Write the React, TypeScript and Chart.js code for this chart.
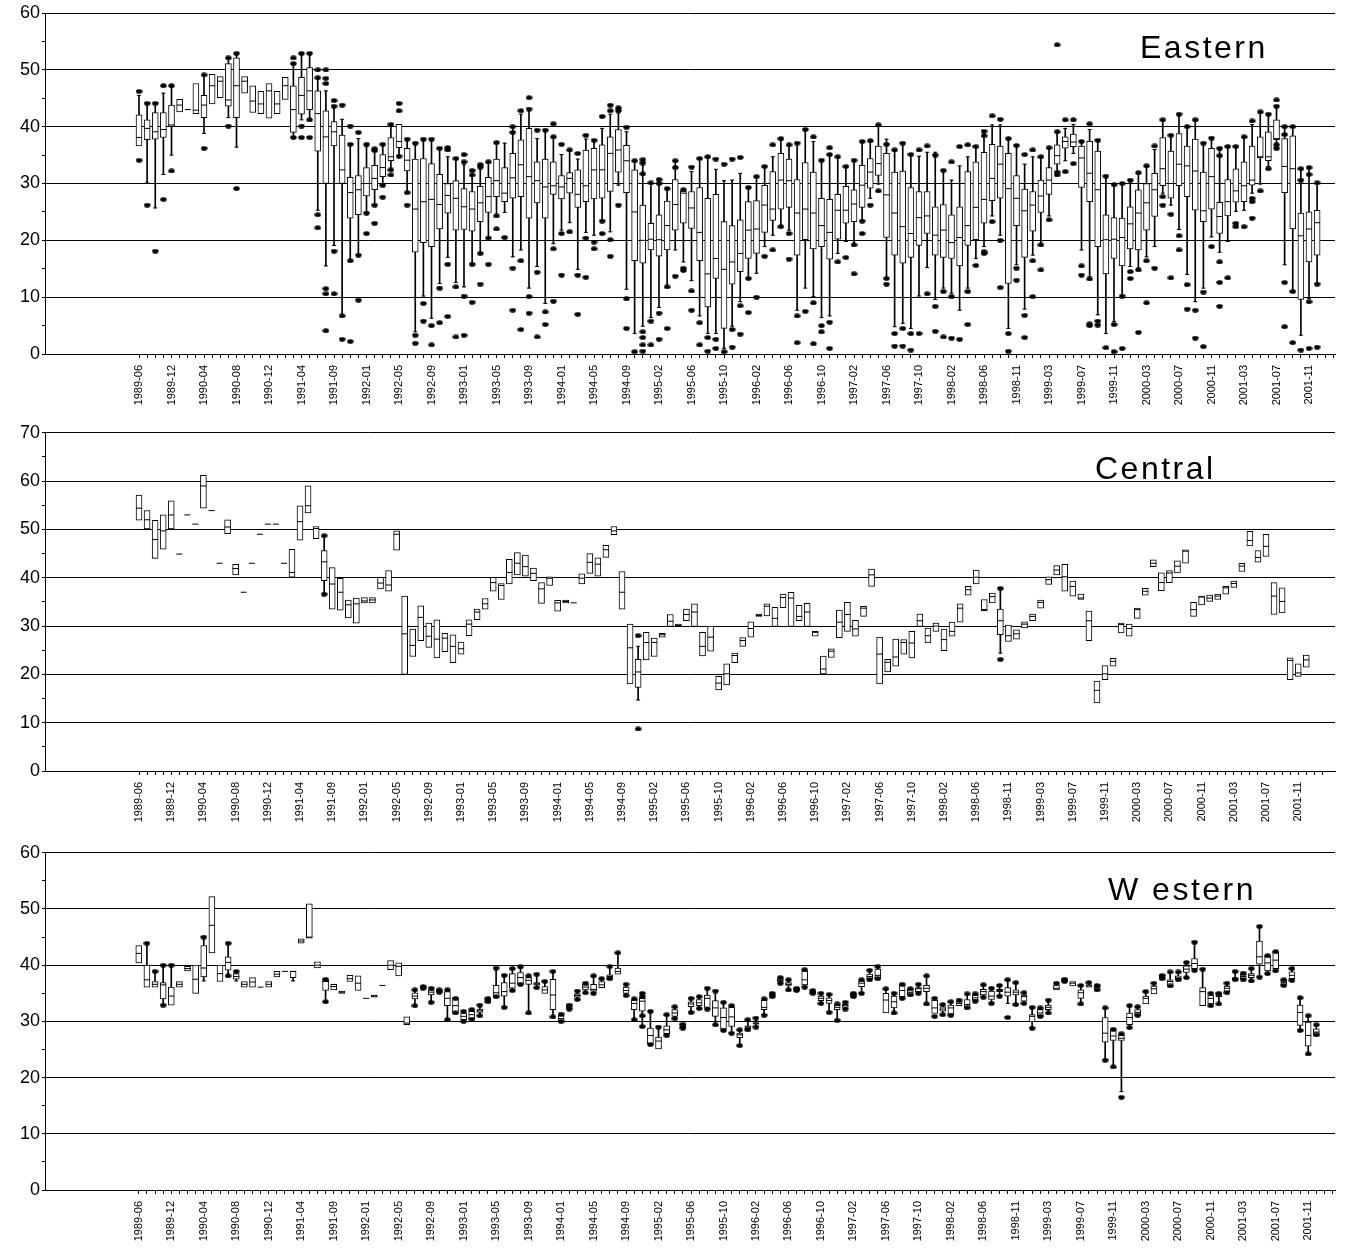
import React, { useEffect, useRef } from "react";
import { Chart, registerables } from "chart.js";

Chart.register(...registerables);
Chart.defaults.font.family = '"Liberation Sans", Arial, sans-serif';

// ---------- categories (x axis) ----------
const months = [
  "1989-06","1989-07","1989-09","1989-10","1989-12",
  "1990-01","1990-02","1990-03","1990-04","1990-05","1990-06","1990-07","1990-08",
  "1990-09","1990-10","1990-11","1990-12","1991-01","1991-02","1991-03","1991-04",
  "1991-05","1991-06","1991-07","1991-09","1991-10","1991-11","1991-12","1992-01",
  "1992-02","1992-03","1992-04","1992-05","1992-06","1992-07","1992-08","1992-09",
  "1992-10","1992-11","1992-12","1993-01","1993-02","1993-03","1993-04","1993-05",
  "1993-06","1993-07","1993-08","1993-09","1993-10","1993-11","1993-12","1994-01",
  "1994-02","1994-03","1994-04","1994-05","1994-06","1994-07","1994-08","1994-09",
  "1994-10","1994-11","1995-01","1995-02","1995-03","1995-04","1995-05","1995-06",
  "1995-07","1995-08","1995-09","1995-10","1995-11","1995-12","1996-01","1996-02",
  "1996-03","1996-04","1996-05","1996-06","1996-07","1996-08","1996-09","1996-10",
  "1996-11","1996-12","1997-01","1997-02","1997-03","1997-04","1997-05","1997-06",
  "1997-07","1997-08","1997-09","1997-10","1997-11","1997-12","1998-01","1998-02",
  "1998-03","1998-04","1998-05","1998-06","1998-07","1998-08","1998-10","1998-11",
  "1998-12","1999-01","1999-02","1999-03","1999-04","1999-05","1999-06","1999-07",
  "1999-08","1999-09","1999-10","1999-11","1999-12","2000-01","2000-02","2000-03",
  "2000-04","2000-05","2000-06","2000-07","2000-08","2000-09","2000-10","2000-11",
  "2000-12","2001-01","2001-02","2001-03","2001-04","2001-05","2001-06","2001-07",
  "2001-08","2001-09","2001-10","2001-11","2001-12"
];

// Box entries: [lo, q1, median, q3, hi] | [q1, median, q3] | [single value]
const eastBoxes = [
  [36.6,36.6,38.1,42.1,45.5],[30.1,37.7,39.7,41.2,44.1],[25.7,37.8,39.1,42.5,44.1],[31.6,38.1,39.5,42.5,45.9],
  [35.0,40.0,40.3,43.8,47.2],[42.6,43.8,44.8],[43.0],[42.3,42.9,47.6],
  [38.8,41.6,43.8,45.5,49.1],[44.0,47.2,49.2],[45.1,48.0,48.8],[41.6,43.6,44.7,51.1,52.1],
  [36.4,41.6,47.2,52.1,52.9],[45.9,48.0,48.8],[42.5,44.5,47.2],[42.3,44.0,46.2],
  [41.5,46.3,47.6],[42.3,44.0,46.2],[44.8,47.2,48.7],[38.1,39.0,43.0,47.2,51.1],
  [41.2,42.2,45.5,48.7,52.9],[41.2,43.0,46.3,50.4,52.9],[25.3,35.7,42.3,46.3,48.6],[15.5,30.0,38.2,42.8,46.3],
  [19.1,36.6,39.1,40.9,43.6],[6.7,30.0,32.4,38.5,41.3],[16.4,23.9,28.4,31.1,36.9],[17.4,24.5,28.9,31.4,37.9],
  [24.8,27.8,30.0,32.8,36.5],[26.2,28.9,30.9,33.2,36.1],[29.7,31.2,32.8,35.1,36.9],[32.4,34.0,34.7,38.1,40.4],
  [34.8,36.3,37.4,40.4,40.4],[28.4,32.2,34.1,36.2,37.8],[3.9,17.9,25.5,34.3,37.1],[10.2,19.6,26.8,34.4,37.8],
  [6.3,18.9,27.2,33.5,37.8],[12.4,22.0,26.3,31.6,36.2],[17.0,24.8,27.9,30.0,34.7],[12.6,21.8,27.4,30.5,34.4],
  [11.8,21.9,25.9,29.1,33.3],[15.8,21.6,25.5,28.6,31.4],[17.7,23.3,26.6,29.5,32.7],[20.4,24.9,27.7,31.1,33.8],
  [24.3,27.7,30.5,34.3,37.2],[24.9,26.8,28.3,32.8,37.1],[17.1,27.4,31.0,35.3,40.0],[18.3,27.7,33.3,37.7,42.2],
  [11.6,23.9,31.2,39.7,43.1],[15.4,26.6,30.5,33.8,37.9],[8.9,23.9,29.4,34.3,39.4],[19.4,28.1,29.6,33.8,38.2],
  [21.8,27.3,29.4,31.4,35.1],[23.1,28.3,30.9,31.9,35.9],[14.9,25.8,28.1,32.4,34.3],[21.4,26.8,29.6,35.9,37.8],
  [20.9,27.3,32.4,36.2,37.6],[23.4,27.4,32.4,36.8,39.7],[21.5,28.6,35.3,38.2,42.2],[29.7,32.0,35.9,39.5,42.4],
  [11.4,28.4,34.0,36.7,39.1],[3.6,16.4,25.0,32.4,34.0],[4.9,16.0,20.0,26.2,33.6],[6.4,18.3,20.2,23.0,30.1],
  [8.2,17.2,20.1,24.5,30.0],[11.8,18.3,22.6,26.9,29.1],[18.3,21.8,26.3,30.7,34.0],[16.2,23.0,28.3,28.7,28.9],
  [12.9,22.1,25.7,28.6,32.1],[6.7,16.4,21.4,29.3,34.4],[3.6,8.3,14.1,27.4,34.7],[3.6,13.3,16.8,28.1,32.5],
  [1.0,4.5,14.9,23.3,30.5],[4.9,12.3,16.2,22.6,30.6],[9.2,14.5,17.7,23.6,31.8],[13.3,16.8,21.8,26.8,29.3],
  [14.2,17.7,22.0,27.0,31.2],[18.9,21.4,26.2,29.7,33.0],[20.9,23.5,25.5,32.1,34.7],[22.4,25.5,30.6,35.3,37.6],
  [21.8,25.8,30.5,34.3,36.8],[7.7,17.4,24.8,30.7,37.1],[11.6,20.1,25.5,33.7,39.5],[10.1,18.5,24.8,32.0,37.4],
  [6.4,18.9,22.6,27.4,34.1],[6.7,16.7,21.4,27.2,35.1],[17.7,20.2,25.3,28.1,34.7],[19.8,23.0,25.3,29.5,33.0],
  [19.2,23.3,26.4,28.9,34.1],[23.4,25.8,29.7,33.2,37.4],[27.4,29.2,32.0,34.4,37.5],[29.9,31.4,33.5,36.6,40.3],
  [13.3,20.5,28.0,35.3,37.8],[4.8,17.4,24.8,32.0,35.9],[5.4,16.0,22.4,32.2,37.1],[4.5,17.0,21.2,29.3,35.1],
  [10.2,19.1,24.0,28.6,34.8],[15.2,21.2,24.3,28.6,35.5],[9.6,17.4,20.9,25.9,35.5],[11.6,17.0,21.8,26.3,32.3],
  [10.7,16.8,19.6,24.5,30.6],[7.7,15.5,20.5,25.9,33.1],[11.6,19.1,22.6,32.1,34.7],[16.8,20.1,25.8,33.8,36.5],
  [18.9,23.0,27.2,35.5,39.1],[24.3,27.0,30.9,36.9,40.3],[20.9,27.4,33.4,36.6,40.3],[4.5,12.4,29.1,35.3,37.8],
  [15.7,22.6,27.4,31.4,36.7],[7.9,17.0,25.2,29.0,33.4],[17.4,21.6,26.2,28.6,34.7],[19.2,24.9,27.8,30.6,34.7],
  [24.3,28.1,30.6,32.8,36.3],[32.1,33.4,34.9,36.8,39.1],[34.0,36.2,37.4,38.2,39.7],[35.3,36.5,37.3,38.7,40.4],
  [18.3,29.3,34.5,36.6,37.4],[13.6,26.8,31.8,37.4,39.5],[6.9,18.9,28.9,35.7,37.6],[3.6,14.1,20.1,24.5,31.3],
  [5.7,16.8,20.2,24.0,29.8],[10.2,15.5,20.5,23.9,29.9],[15.4,18.5,22.9,25.9,30.6],[15.1,18.3,24.8,28.9,31.9],
  [17.1,21.8,26.6,30.0,33.1],[18.9,24.2,28.9,31.8,36.0],[28.3,29.6,32.6,38.1,41.2],[26.2,27.4,30.0,35.7,38.5],
  [21.9,29.6,33.4,38.8,42.2],[14.0,27.7,33.1,36.6,40.0],[9.2,25.3,32.2,37.8,41.2],[11.6,23.3,25.2,32.0,37.1],
  [20.6,25.5,31.2,36.2,38.0],[17.9,21.2,24.2,26.7,35.9],[19.8,24.3,26.8,30.7,36.5],[25.1,26.7,28.7,32.6,36.5],
  [25.3,26.8,29.6,33.8,38.2],[28.3,29.7,30.6,36.6,40.4],[29.9,34.5,34.7,38.2,42.4],[33.0,34.0,34.7,39.1,42.2],
  [37.1,37.7,37.9,41.2,43.6],[15.7,28.4,33.0,37.9,40.0],[11.0,22.0,32.6,38.4,40.0],[3.3,9.6,20.8,24.8,32.6],
  [9.8,16.2,22.0,25.0,32.8],[12.3,17.4,23.1,25.3,30.1]
];
const eastOutliers = [
  [46.2,34.1],[44.1,26.2],[44.1,18.1],[47.2,27.2],[47.2,32.2],[],[],[],
  [49.1,36.2],[],[],[52.1,40.1],[52.9,29.1],[],[],[],
  [],[],[],[52.1,51.1,38.1],[52.9,40.1,38.1],[52.9,41.2,38.1],[50.0,48.6,24.5,22.2],[50.0,48.5,47.6,11.5,10.6,4.1],
  [44.6,43.6,18.1,10.6],[43.8,6.7,2.6],[40.1,36.9,16.4,2.2],[39.0,17.4,9.5],[36.9,24.8,21.2],[36.1,35.8,26.2,23.0],[36.9,29.7,27.6],[40.4,32.4,31.5],
  [44.1,42.8,34.8],[37.8,28.4,26.2],[37.1,3.3,1.9],[37.8,8.9,5.8],[37.8,5.0,1.6],[36.2,11.6,5.5],[36.3,35.9,15.8,6.6],[34.4,11.8,3.0],
  [35.1,33.8,10.2,3.3],[32.3,31.5,15.8,9.1],[33.3,32.9,17.7,12.3],[33.8,20.4,15.8],[37.2,24.3,22.0],[20.5],[40.0,39.0,15.1,7.7],[42.8,16.4,4.3],
  [45.1,43.1,10.1,7.2],[39.4,14.4,3.0],[39.4,7.4,5.2],[40.5,38.2,18.5,9.3],[36.9,21.2,13.9],[35.9,21.5],[35.3,13.9,7.0],[38.5,20.4,13.5],
  [37.6,19.7,18.5],[41.8,23.4,21.2],[43.8,42.8,20.1,17.2],[43.3,42.8,26.2],[39.9,9.7,4.5],[34.0,0.4],[34.2,33.6,31.7,3.9,2.9,1.6,0.5],[30.1,5.8,1.6],
  [30.7,30.0,7.2,2.6],[29.1,11.8,4.5],[34.0,32.8,13.7],[28.9,15.1,14.7],[32.9,11.1,7.7],[34.4,5.5,1.6],[34.7,2.9,0.5],[34.3,2.6,1.0],
  [33.4,0.4],[34.3,4.3,1.2],[34.6,8.5,3.5],[29.3,13.3,7.3],[31.2,10.0],[33.0,17.2],[36.8,18.3],[37.9,22.4],
  [36.8,21.2,16.7],[37.1,6.7,2.0],[39.5,7.5],[38.2,9.0,1.8],[34.1,5.0,3.9],[36.3,35.1,5.6,1.0],[34.7,16.2],[33.0,17.0],
  [34.1,19.2,14.1],[37.4,23.4,21.2],[37.5,26.2],[40.3,28.7],[36.9,13.3,12.3],[35.9,3.6,1.4],[37.1,4.5,1.4],[35.1,3.6,0.7],
  [35.9,3.6],[36.6,10.6],[35.0,8.4,4.0],[32.3,11.0,3.0],[33.8,10.1,2.8],[36.5,2.6],[36.8,11.0,5.2],[36.5,15.6],
  [39.2,38.4,18.0,17.7],[41.9,23.3],[41.3,20.0,11.7],[37.9,3.6,0.5],[36.7,15.1,13.0],[35.1,6.8,2.9],[35.9,16.4,10.1],[34.7,19.2,14.8],
  [36.3,23.6],[54.4,39.1,32.0,31.5],[41.2,32.1],[41.2,33.5],[37.4,15.5,13.9],[40.5,13.2,5.3,5.0],[37.6,5.8,5.1],[31.3,1.1],
  [29.8,5.2,0.4],[30.0,10.2,1.0],[30.6,14.5,13.3],[31.9,14.8,3.8],[33.1,16.4,9.0],[36.6,15.1],[41.2,27.7,26.2],[38.5,24.6,13.4],
  [42.2,20.8,18.3],[40.0,12.2,7.9],[41.2,7.7,2.8],[37.1,10.9,1.3],[38.0,18.9],[36.2,34.9,16.2,12.6,8.4],[36.5,13.4],[36.5,23.0,22.4],
  [38.2,22.4],[41.0,27.4,26.8,23.9],[42.6,28.7],[42.2,32.6],[44.7,43.6,36.8,36.2],[40.0,38.6,12.6,4.8],[40.0,11.0,2.0],[32.6,30.6,0.7],
  [32.8,31.6,9.2,1.0],[30.1,12.3,1.2]
];

const centralBoxes = [
  [51.9,54.4,57.1],[50.1,52.0,53.9],[44.0,47.9,51.9],[45.9,49.7,53.0],[50.1,53.0,55.9],[44.9],[53.0],[51.1],
  [54.4,59.0,61.2],[53.9],[43.0],[49.1,50.5,52.0],[40.6,41.9,42.8],[37.0],[43.0],[49.0],
  [51.1],[51.1],[43.0],[40.1,41.1,45.9],[47.8,51.6,54.9],[53.4,54.9,59.0],[48.1,50.2,50.6],[36.6,39.4,43.3,45.6,48.7],
  [33.5,38.7,42.1],[33.3,37.0,39.9],[31.7,34.4,35.4],[30.6,34.6,35.8],[34.8,35.2,35.9],[34.8,35.4,35.9],[37.7,38.9,40.1],[37.2,38.5,41.5],
  [45.7,49.0,49.7],[20.0,28.4,36.2],[23.7,26.0,29.4],[27.0,31.8,34.2],[25.6,27.9,30.6],[23.4,27.3,31.3],[24.7,27.5,28.5],[22.4,25.8,28.2],
  [24.2,25.3,26.7],[28.0,30.4,31.3],[31.3,32.9,33.5],[33.5,34.6,35.7],[37.2,39.0,40.1],[35.5,38.4,38.8],[38.7,41.1,43.8],[40.6,43.0,45.2],
  [40.3,42.3,44.7],[39.4,40.9,42.0],[34.7,37.7,39.0],[38.4,39.9,40.2],[33.1,34.8,35.3],[34.8,35.1,35.4],[34.8],[38.7,39.9,40.8],
  [40.9,43.2,45.0],[40.3,42.8,44.1],[44.2,45.8,46.7],[48.9,49.7,50.6],[33.5,37.0,41.3],[18.0,25.5,30.4],[14.7,17.3,20.5,23.1,25.8],[23.0,26.6,28.7],
  [23.7,26.6,27.5],[27.7,28.2,28.5],[29.9,31.0,32.4],[29.9,30.1,30.4],[31.1,32.4,33.5],[29.9,32.9,34.6],[23.8,25.8,28.7],[24.8,27.7,30.0],
  [16.8,18.2,19.6],[17.8,20.1,22.2],[22.4,23.9,24.4],[25.8,27.0,27.6],[27.7,29.5,30.9],[32.0,32.2,32.5],[32.1,34.1,34.6],[29.9,31.6,33.9],
  [33.8,35.9,36.6],[29.9,35.8,37.0],[31.1,32.0,34.3],[29.9,32.9,34.7],[27.9,28.7,28.9],[20.1,21.1,23.8],[23.5,24.8,25.3],[27.6,30.8,33.3],
  [28.9,32.4,34.9],[27.9,29.4,31.2],[32.0,33.7,34.1],[38.2,40.6,41.8],[18.0,24.2,27.7],[20.5,22.5,23.1],[21.7,23.6,27.3],[24.2,26.6,27.2],
  [23.4,26.5,28.9],[29.9,31.1,32.5],[26.5,28.0,29.6],[28.9,30.0,30.6],[24.9,27.2,29.4],[27.9,28.9,30.8],[30.8,33.7,34.6],[36.4,37.5,38.2],
  [38.7,40.1,41.6],[33.2,33.4,35.5],[34.8,36.1,36.8],[24.4,28.2,31.1,33.5,37.8],[26.8,28.0,30.2],[27.3,28.4,29.2],[29.6,30.4,30.9],[31.1,32.0,32.5],
  [33.7,34.9,35.4],[38.6,39.6,40.2],[40.6,41.6,42.5],[37.2,40.2,42.8],[36.2,38.2,39.3],[35.5,35.8,36.6],[27.0,31.1,33.1],[14.1,16.7,18.6],
  [18.9,20.1,21.8],[21.7,22.7,23.3],[28.6,30.3,30.6],[27.9,29.5,30.4],[31.6,33.4,33.7],[36.4,37.2,37.8],[42.3,43.0,43.7],[37.3,39.0,41.0],
  [39.0,41.0,41.5],[41.0,42.4,43.5],[43.0,45.5,45.8],[32.0,33.4,34.9],[34.4,36.0,36.2],[35.1,35.8,36.4],[35.5,36.2,36.6],[36.6,37.9,38.2],
  [38.0,38.8,39.3],[41.3,42.4,43.0],[46.6,47.7,49.6],[43.2,44.2,45.6],[44.4,46.5,49.0],[32.4,36.2,39.0],[32.7,35.1,37.9],[18.9,22.9,23.4],
  [19.6,20.3,22.2],[21.5,23.0,24.0]
];
// [category index, value]
const centralOutliers = [[23,48.7],[23,36.6],[62,28.0],[62,8.7],[107,37.8],[107,23.1]];

const westBoxes = [
  [40.4,42.1,43.5],[36.1,36.1,37.4,40.0,43.9],[36.1,36.1,36.6,37.1,38.9],[32.9,34.0,36.5,36.9,40.0],
  [32.9,32.9,34.5,36.1,40.0],[36.1,36.6,37.1],[39.0,39.4,39.8],[35.0,37.5,40.0],
  [37.2,37.9,39.5,43.5,45.0],[42.2,47.1,52.2],[37.1,38.5,40.0],[38.1,39.1,40.5,41.5,43.9],
  [37.2,37.5,38.0,38.5,38.9],[36.1,36.6,37.1],[36.1,37.0,37.8],[36.1],
  [36.1,36.6,37.1],[37.9,38.4,38.9],[38.9],[37.2,37.8,38.9,38.9,38.9],
  [43.9,44.3,44.7],[44.8,45.0,50.9],[39.5,40.0,40.6],[33.5,35.5,37.1,37.5,37.5],
  [35.6,36.2,36.6],[35.0,35.2,35.4],[37.1,37.6,38.2],[35.5,36.8,38.1],
  [34.1],[34.3,34.5,34.7],[36.4],[39.2,40.0,40.8],
  [38.1,39.8,40.4],[29.4,29.7,30.8],[32.8,34.0,34.5,35.1,35.6],[35.9,35.9,36.0,36.2,36.2],
  [33.4,34.7,35.2,35.6,35.9],[35.2,35.4,35.6],[30.3,32.8,34.1,35.3,35.6],[31.5,32.8,34.1],
  [30.0,30.3,30.9,31.5,31.8],[30.5,30.5,31.2,31.8,32.1],[31.0,31.6,31.9,32.2,32.9],[33.5,33.5,33.8,34.0,34.1],
  [34.4,34.4,35.1,36.4,39.5],[32.5,34.5,35.3,36.9,38.2],[35.5,35.9,36.8,38.5,39.4],[36.6,36.6,37.8,38.7,39.7],
  [31.5,36.6,37.3,37.8,38.1],[36.0,36.5,36.7,36.9,38.4],[35.0,35.0,35.6,36.2,37.1],[30.8,32.1,34.7,37.5,38.9],
  [30.0,30.0,30.5,31.1,31.3],[32.2,32.5,32.9],[33.9,34.3,34.6,34.9,35.4],[35.1,35.6,36.1,36.6,36.8],
  [35.0,35.4,35.7,36.6,38.1],[36.0,36.0,36.5,37.1,37.6],[37.6,37.6,38.0,38.3,39.8],[38.4,38.4,38.9,39.5,42.2],
  [34.6,35.0,35.5,36.1,36.6],[30.3,32.1,33.2,33.8,34.0],[29.1,31.8,33.6,34.1,35.0],[25.9,26.0,27.5,28.8,31.8],
  [25.1,25.1,26.5,27.2,29.0],[27.5,27.8,28.5,29.2,31.2],[30.5,30.9,31.5,32.1,32.6],[28.8,29.1,29.5],
  [31.6,32.6,33.1,33.5,34.1],[32.3,32.8,33.3,33.9,34.4],[32.2,32.5,34.1,34.7,35.9],[29.4,30.9,32.4,33.7,35.4],
  [28.4,28.6,30.7,32.4,33.4],[27.9,29.1,30.8,32.5,32.8],[25.7,27.1,27.6,27.9,28.5],[28.5,28.7,29.0,29.2,30.3],
  [29.0,29.5,29.6,29.8,30.6],[31.1,32.1,32.5,33.8,34.0],[34.4,34.5,34.7,34.9,35.0],[36.8,37.1,37.3,37.6,37.8],
  [35.6,36.4,36.6,36.9,37.4],[35.5,35.7,35.9],[36.1,36.5,37.4,39.0,39.2],[35.0,35.0,35.2,35.3,35.5],
  [33.2,33.7,34.1,34.5,35.0],[31.6,33.2,33.7,34.2,34.8],[30.2,32.1,32.5,32.9,33.1],[32.2,32.5,32.8,33.1,33.4],
  [34.4,34.7,35.0],[35.0,36.2,36.8,37.2,37.4],[37.4,37.6,38.0,38.4,39.1],[37.6,37.6,38.2,39.3,39.8],
  [31.5,31.5,33.8,35.0,35.8],[31.5,32.4,33.5,34.5,35.0],[34.1,34.4,35.5,36.5,36.6],[34.7,35.2,35.8],
  [35.0,35.3,35.8,36.0,36.6],[33.1,35.3,35.9,36.4,38.1],[31.4,31.4,32.4,33.8,34.1],[31.2,31.8,32.2,32.6,33.0],
  [31.1,31.3,32.4,32.9,33.5],[32.8,32.8,33.2,33.6,33.8],[32.4,32.5,33.0,33.9,34.9],[33.6,33.8,34.2,34.7,34.9],
  [34.3,34.7,35.3,35.7,36.5],[33.2,33.9,34.5,35.4,35.9],[34.5,35.3,35.5,35.7,36.4],[33.2,34.5,35.2,36.0,37.4],
  [33.0,34.7,35.2,35.6,36.9],[33.2,33.6,34.4,34.7,35.1],[28.8,29.9,30.9,31.2,32.5],[30.9,30.9,31.5,32.1,32.4],
  [31.5,32.1,32.5,32.9,33.8],[35.6,35.6,35.9,36.5,36.8],[37.1,37.3,37.5],[36.3,36.8,37.1],
  [33.1,34.1,35.1,35.6,36.4],[36.1,36.1,36.3,36.5,36.9],[35.6,36.0,36.4],[23.1,26.3,27.9,30.7,32.4],
  [21.9,26.6,27.4,28.4,28.6],[17.5,26.6,27.0,27.5,27.8],[28.9,29.4,30.7,31.5,32.8],[31.1,31.1,31.6,32.1,32.6],
  [33.1,33.1,34.1,34.5,35.3],[34.9,34.9,35.8,36.3,36.8],[37.6,37.9,38.2],[36.3,36.3,37.1,37.4,38.8],
  [37.4,37.4,37.7,38.1,38.8],[37.8,38.7,39.3,39.9,40.5],[39.1,39.4,40.3,41.2,44.1],[32.8,32.8,35.3,36.0,39.3],
  [32.8,33.1,34.1,34.7,35.0],[33.1,34.4,34.7,35.0,35.0],[35.1,35.3,35.9,36.3,36.8],[37.4,37.4,37.6,37.8,38.9],
  [37.4,37.6,38.0,38.4,38.6],[37.2,37.8,38.2,38.5,39.4],[37.9,40.2,41.5,44.3,46.9],[38.5,39.0,40.4,41.6,41.7],
  [39.0,39.4,40.9,42.4,42.4],[36.4,36.5,36.9,37.4,37.4],[37.3,37.6,38.2,38.8,39.4],[28.4,29.3,31.6,32.9,34.2],
  [24.2,25.6,27.5,29.9,31.0],[27.5,27.5,28.1,28.7,29.4]
];
const westOutliers = [
  [],[43.9],[38.9],[40.0,32.9],[40.0],[],[],[],
  [45.0],[],[],[43.9,38.1],[38.9],[],[],[],
  [],[],[],[],[],[],[],[37.5,33.5],
  [],[],[],[],[],[],[],[],
  [],[],[35.6,32.8],[36.2,35.9],[35.9,33.4],[35.6,35.2],[35.6,30.3],[34.1,31.5],
  [31.8,30.0],[32.1,30.4],[32.9,31.0],[34.1,33.5],[39.5,34.4],[38.2,32.5],[39.4,35.5],[39.7,36.6],
  [38.1,31.5],[38.4,36.0],[37.1],[38.9,30.8],[31.3,30.0],[32.9,32.2],[35.4,33.9],[36.8,35.1],
  [38.1,35.0],[37.6],[39.8,37.6],[42.2],[36.6,34.6],[34.0,30.3],[35.0,34.4,31.0,29.1],[31.8,25.9],
  [29.0],[31.2,27.5],[32.6,30.5],[29.5,28.8],[34.1,31.6],[34.4,32.3],[35.9,32.2],[35.4,29.4],
  [33.4,28.4],[32.8,27.9],[28.5,25.7],[30.3,28.5],[30.6,29.0],[34.0,31.1],[35.0,34.4],[37.8,36.8],
  [37.4,35.6],[35.9,35.5],[39.2,36.1],[35.5,35.0],[35.0,33.2],[34.8,31.6],[33.1,30.2],[33.4,32.2],
  [35.0,34.4],[37.4,35.0],[39.1,37.4],[39.8,37.6],[35.8],[35.0,31.5],[36.6,34.1],[35.8,34.7],
  [36.6,35.0],[38.1,33.1],[34.1,30.9],[33.0,31.2],[33.5,31.1],[33.8],[34.9,32.4],[34.9,33.6],
  [36.5,34.3],[35.9,33.2],[36.4,34.5],[37.4,30.7],[36.9,33.0],[35.1,33.2],[32.5,28.8],[32.4,30.9],
  [33.8,31.5],[36.8],[37.5,37.1],[],[36.4,33.1],[36.9],[36.4,35.6],[32.4,23.1],
  [28.6,21.9],[27.8,16.5],[32.8,28.9],[32.6,31.1],[35.3],[36.8],[38.2,37.6],[38.8,36.3],
  [38.8,37.4],[40.5,37.8],[44.1,39.1],[39.3],[35.0,32.8],[35.0,33.1],[36.8,35.1],[38.9,37.4],
  [38.6,37.4],[39.4,37.2],[46.9,37.9],[41.7,38.5],[42.4,39.0],[37.4,36.4],[39.4,37.3],[34.2,28.4],
  [31.0,24.2],[29.4,27.6]
];

// y-axis major tick values per panel
const eastYTicks = [0, 10, 20, 30, 40, 50, 60];
const centralYTicks = [0, 10, 20, 30, 40, 50, 60, 70];
const westYTicks = [0, 10, 20, 30, 40, 50, 60];

// ---------- layout ----------
const CANVAS_W = 1347;
const TICK_COUNT = 148;

const panels = [
  { title: "Eastern", boxes: eastBoxes, outliers: eastOutliers, yTicks: eastYTicks, xMin: -11.57, xMax: 147.2, top: 0, height: 420, padTop: 13, axisH: 66, titleX: 1140, titleDY: 45 },
  { title: "Central", boxes: centralBoxes, outliers: null, yTicks: centralYTicks, xMin: -11.68, xMax: 148.57, top: 420, height: 420, padTop: 12, axisH: 69, titleX: 1095, titleDY: 46 },
  { title: "W estern", boxes: westBoxes, outliers: westOutliers, yTicks: westYTicks, xMin: -11.55, xMax: 147.3, top: 840, height: 410, padTop: 10, axisH: 60, titleX: 1108, titleDY: 47 },
];

function makeDot() {
  const c = document.createElement("canvas");
  c.width = 7;
  c.height = 5;
  const g = c.getContext("2d");
  g.fillStyle = "#000";
  g.beginPath();
  g.ellipse(3.5, 2.5, 3.2, 2.3, 0, 0, Math.PI * 2);
  g.fill();
  return c;
}

function outlierPoints(p) {
  const pts = [];
  if (p.outliers) {
    p.outliers.forEach((vals, i) => vals.forEach((v) => pts.push({ x: i, y: v })));
  } else {
    centralOutliers.forEach(([i, v]) => pts.push({ x: i, y: v }));
  }
  return pts;
}

function buildDatasets(p, dot) {
  const boxData = [];
  const whiskerData = [];
  const capData = [];
  const medData = [];
  p.boxes.forEach((b, i) => {
    if (!b) return;
    let lo, q1, med, q3, hi;
    if (b.length === 1) { lo = q1 = med = q3 = hi = b[0]; }
    else if (b.length === 3) { q1 = b[0]; med = b[1]; q3 = b[2]; lo = q1; hi = q3; }
    else { lo = b[0]; q1 = b[1]; med = b[2]; q3 = b[3]; hi = b[4]; }
    if (q3 > q1) boxData.push({ x: i, y: [q1, q3] });
    if (hi > q3) { whiskerData.push({ x: i, y: [q3, hi] }); capData.push({ x: i, y: hi }); }
    if (lo < q1) { whiskerData.push({ x: i, y: [lo, q1] }); capData.push({ x: i, y: lo }); }
    medData.push({ x: i, y: med });
  });
  return [
    { type: "scatter", label: "outliers", data: outlierPoints(p), pointStyle: dot, pointRadius: 3, order: 0, clip: false },
    { type: "scatter", label: "median", data: medData, pointStyle: "line", pointRadius: 3, pointBorderColor: "#000", borderColor: "#000", pointBorderWidth: 1, order: 1 },
    { type: "bar", label: "box", data: boxData, backgroundColor: "#fff", borderColor: "#000", borderWidth: 1, borderSkipped: false, barThickness: 6, grouped: false, order: 2 },
    { type: "scatter", label: "caps", data: capData, pointStyle: "line", pointRadius: 2, pointBorderColor: "#000", borderColor: "#000", pointBorderWidth: 1, order: 3 },
    { type: "bar", label: "whisker", data: whiskerData, backgroundColor: "#000", borderWidth: 0, barThickness: 1, grouped: false, order: 4 },
  ];
}

function Panel({ p }) {
  const ref = useRef(null);
  useEffect(() => {
    const dot = makeDot();
    const yMax = p.yTicks[p.yTicks.length - 1];
    const yAll = [];
    p.yTicks.forEach((v, k) => {
      yAll.push(v);
      if (k < p.yTicks.length - 1) yAll.push(v + 5);
    });
    const titlePlugin = {
      id: "panelTitle",
      afterDraw(chart) {
        const ctx = chart.ctx;
        ctx.save();
        ctx.font = '32px "Liberation Sans", Arial, sans-serif';
        ctx.fillStyle = "#000";
        ctx.textAlign = "left";
        ctx.textBaseline = "alphabetic";
        try { ctx.letterSpacing = "2.5px"; } catch (e) {}
        ctx.fillText(p.title, p.titleX, chart.chartArea.top + p.titleDY);
        ctx.restore();
      },
    };
    const chart = new Chart(ref.current, {
      type: "bar",
      data: { datasets: buildDatasets(p, dot) },
      plugins: [titlePlugin],
      options: {
        animation: false,
        responsive: false,
        devicePixelRatio: 1,
        layout: { padding: { top: p.padTop, right: CANVAS_W - 1335, left: 0, bottom: 0 } },
        plugins: { legend: { display: false }, tooltip: { enabled: false } },
        scales: {
          x: {
            type: "linear",
            min: p.xMin,
            max: p.xMax,
            offset: false,
            afterBuildTicks: (s) => {
              s.ticks = Array.from({ length: TICK_COUNT }, (_, i) => ({ value: i })).filter((t) => t.value <= p.xMax);
            },
            afterFit: (s) => {
              s.height = p.axisH;
              s.paddingLeft = 0;
              s.paddingRight = 0;
            },
            ticks: {
              autoSkip: false,
              maxRotation: 90,
              minRotation: 90,
              padding: 7,
              color: "#000",
              font: { size: 11 },
              callback: (v) => (Number.isInteger(v) && v % 4 === 0 && months[v] ? months[v] : ""),
            },
            grid: { display: true, drawOnChartArea: false, drawTicks: true, tickLength: 4, color: "#000", offset: false },
            border: { display: true, color: "#000", width: 1 },
          },
          y: {
            type: "linear",
            min: 0,
            max: yMax,
            afterBuildTicks: (s) => { s.ticks = yAll.map((v) => ({ value: v })); },
            afterFit: (s) => { s.width = 45; },
            ticks: {
              autoSkip: false,
              padding: 2,
              color: "#000",
              font: { size: 18 },
              callback: (v) => (v % 10 === 0 ? String(v) : ""),
            },
            grid: {
              color: (c) => (c.tick && c.tick.value % 10 === 0 ? "#000" : "rgba(0,0,0,0)"),
              tickColor: "#000",
              tickLength: 3,
              drawTicks: true,
            },
            border: { display: true, color: "#000", width: 1 },
          },
        },
      },
    });
    return () => chart.destroy();
  }, []);
  return (
    <canvas
      ref={ref}
      width={CANVAS_W}
      height={p.height}
      style={{ position: "absolute", left: 0, top: p.top, width: CANVAS_W, height: p.height }}
    />
  );
}

export default function App() {
  return (
    <div style={{ position: "absolute", left: 0, top: 0, width: CANVAS_W, height: 1250, background: "#fff" }}>
      {panels.map((p) => (
        <Panel key={p.title} p={p} />
      ))}
    </div>
  );
}
